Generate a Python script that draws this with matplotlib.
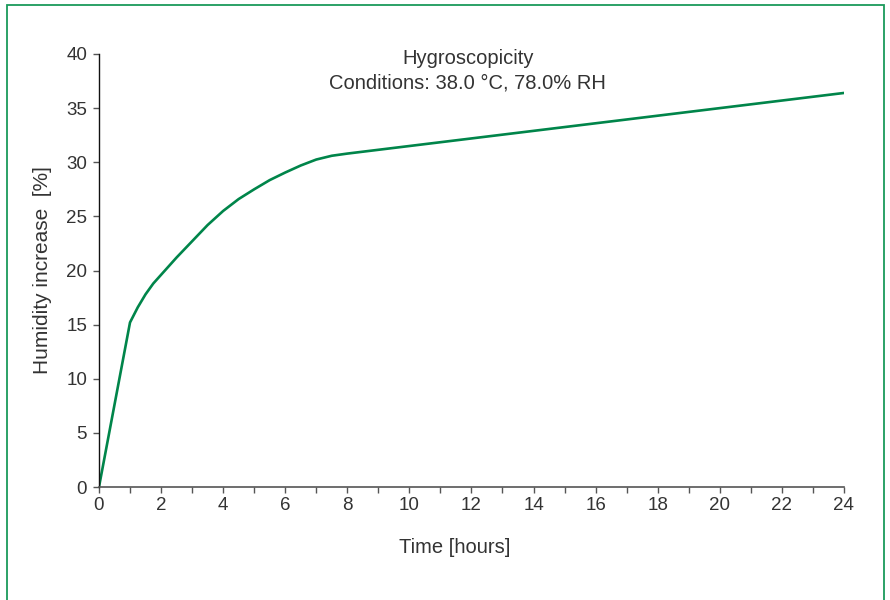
import matplotlib.pyplot as plt
from matplotlib.patches import Rectangle

plt.rcParams["font.family"] = ["Liberation Sans", "DejaVu Sans"]

czas = [0, 1, 1.25, 1.5, 1.75, 2, 2.5, 3, 3.5, 4, 4.5, 5, 5.5, 6, 6.5, 7,
        7.5, 8, 12, 16, 20, 24]
wilgotnosc = [0, 15.2, 16.6, 17.8, 18.8, 19.6, 21.2, 22.7, 24.2, 25.5, 26.6,
              27.5, 28.35, 29.05, 29.7, 30.25, 30.6, 30.8, 32.2, 33.6, 35.0,
              36.4]
x_ticks = list(range(0, 25, 2))
y_ticks = list(range(0, 41, 5))

tekst = "#333333"
zielony = "#00854a"

fig = plt.figure(figsize=(8.9, 6), dpi=100)
ax = fig.add_axes([0.1112, 0.1883, 0.837, 0.7217])

ax.plot(czas, wilgotnosc, color=zielony, linewidth=1.9,
        solid_joinstyle="round", solid_capstyle="round")

ax.set_xlim(0, 24)
ax.set_ylim(0, 40)
ax.set_xticks(x_ticks)
ax.set_xticks(range(0, 25), minor=True)
ax.set_yticks(y_ticks)

for s in ["top", "right"]:
    ax.spines[s].set_visible(False)
ax.spines["left"].set_color("#111111")
ax.spines["bottom"].set_color("#555555")
ax.spines["left"].set_linewidth(1.0)
ax.spines["bottom"].set_linewidth(1.2)

ax.tick_params(axis="both", which="both", direction="out", colors="#555555",
               labelcolor=tekst, labelsize=13.5, width=1.0)
ax.tick_params(axis="both", which="major", length=4.5)
ax.tick_params(axis="x", which="minor", length=4.5)
ax.tick_params(axis="y", pad=4)
ax.tick_params(axis="x", pad=3)

ax.set_xlabel("Time [hours]", fontsize=14.5, color=tekst)
ax.set_ylabel("Humidity increase  [%]", fontsize=15, color=tekst)
ax.yaxis.set_label_coords(-0.063, 0.5)
ax.xaxis.set_label_coords(0.477, -0.117)

ax.text(0.495, 1.011, "Hygroscopicity\nConditions: 38.0 °C, 78.0% RH",
        transform=ax.transAxes, ha="center", va="top", fontsize=14.5,
        color=tekst, linespacing=1.36)

ramka = Rectangle((7 / 890, -0.05), 877 / 890, 1.05 - 5 / 600,
                  transform=fig.transFigure, fill=False, edgecolor="#1a9a5a",
                  linewidth=1.3, clip_on=False)
fig.patches.append(ramka)

plt.savefig("out.png", dpi=100)
